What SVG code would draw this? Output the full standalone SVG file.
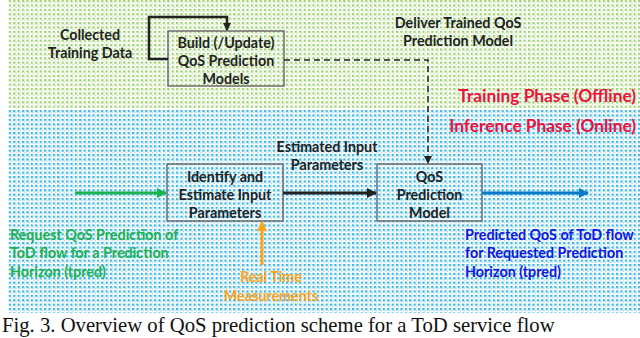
<svg xmlns="http://www.w3.org/2000/svg" width="640" height="338" viewBox="0 0 640 338">
<defs>
<pattern id="pg" width="4.4" height="4.4" patternUnits="userSpaceOnUse">
<rect x="0" y="0" width="2.2" height="2.2" fill="#9ad26a"/>
<rect x="2.2" y="2.2" width="1.4" height="1.4" fill="#c9e8b0"/>
</pattern>
<pattern id="pb" width="4.4" height="4.4" patternUnits="userSpaceOnUse">
<rect x="0" y="0" width="2.2" height="2.2" fill="#2fb4ec"/>
<rect x="2.2" y="2.2" width="1.4" height="1.4" fill="#a8dcf5"/>
</pattern>
<marker id="ak" markerWidth="8" markerHeight="8" refX="7" refY="4" orient="auto" markerUnits="userSpaceOnUse"><path d="M0,0 L8,4 L0,8 Z" fill="#222"/></marker>
<marker id="akl" markerWidth="10" markerHeight="10" refX="9" refY="5" orient="auto" markerUnits="userSpaceOnUse"><path d="M0,0 L10,5 L0,10 Z" fill="#222"/></marker>
<marker id="ag" markerWidth="10" markerHeight="10" refX="9" refY="5" orient="auto" markerUnits="userSpaceOnUse"><path d="M0,0 L10,5 L0,10 Z" fill="#1db150"/></marker>
<marker id="ab" markerWidth="10" markerHeight="10" refX="9" refY="5" orient="auto" markerUnits="userSpaceOnUse"><path d="M0,0 L10,5 L0,10 Z" fill="#0a78c8"/></marker>
<marker id="ao" markerWidth="10" markerHeight="10" refX="9" refY="5" orient="auto" markerUnits="userSpaceOnUse"><path d="M0,0 L10,5 L0,10 Z" fill="#ffa31a"/></marker>
<style>
.t{font-family:Lato,"Liberation Sans",sans-serif;font-weight:bold;font-size:14.3px;fill:#222;}
.c{text-anchor:middle;}
.box{fill:none;stroke:#6e6e6e;stroke-width:1.5;}
.ph{font-family:Lato,"Liberation Sans",sans-serif;font-weight:bold;font-size:17.3px;fill:#ee0f3c;text-anchor:end;}
.gr{fill:#1db150;}
.bl{fill:#1515e0;}
.or{fill:#ffa31a;}
</style>
</defs>
<rect width="640" height="338" fill="#fff"/>
<rect x="8" y="0" width="632" height="108" fill="url(#pg)"/>
<rect x="8" y="110" width="632" height="203" fill="url(#pb)"/>

<text class="ph" x="636" y="102">Training Phase (Offline)</text>
<text class="ph" x="636" y="132">Inference Phase (Online)</text>

<g id="build">
<rect class="box" x="168" y="31" width="116" height="55"/>
<text class="t c" x="226" y="48">Build (/Update)</text>
<text class="t c" x="226" y="66">QoS Prediction</text>
<text class="t c" x="226" y="84">Models</text>
</g>
<g id="identify">
<rect class="box" x="167" y="164" width="116" height="57"/>
<text class="t c" x="225" y="182">Identify  and</text>
<text class="t c" x="225" y="200">Estimate Input</text>
<text class="t c" x="225" y="218">Parameters</text>
</g>
<g id="qos">
<rect class="box" x="377" y="164" width="105" height="57"/>
<text class="t c" x="429.5" y="182">QoS</text>
<text class="t c" x="429.5" y="200">Prediction</text>
<text class="t c" x="429.5" y="218">Model</text>
</g>

<g id="connectors" fill="none">
<path d="M168,59 H149 V17 H227 V30" stroke="#222" stroke-width="2.5" marker-end="url(#ak)"/>
<path d="M284,60 H428 V163" stroke="#222" stroke-width="1.5" stroke-dasharray="6,4" marker-end="url(#ak)"/>
<path d="M75,193 H166" stroke="#1db150" stroke-width="3" marker-end="url(#ag)"/>
<path d="M283,193 H376" stroke="#222" stroke-width="3" marker-end="url(#akl)"/>
<path d="M482,193 H588" stroke="#0a78c8" stroke-width="3" marker-end="url(#ab)"/>
<path d="M262,265 V222" stroke="#ffa31a" stroke-width="3" marker-end="url(#ao)"/>
</g>

<text class="t c" x="90" y="40">Collected</text>
<text class="t c" x="90" y="58">Training Data</text>
<text class="t c" x="458" y="28">Deliver Trained QoS</text>
<text class="t c" x="458" y="46">Prediction Model</text>
<text class="t c" x="327" y="152">Estimated Input</text>
<text class="t c" x="327" y="170">Parameters</text>

<text class="t gr" x="10" y="240">Request QoS Prediction of</text>
<text class="t gr" x="10" y="258">ToD flow for a Prediction</text>
<text class="t gr" x="10" y="277">Horizon (tpred)</text>

<text class="t or c" x="271" y="282">Real Time</text>
<text class="t or c" x="271" y="301">Measurements</text>

<text class="t bl" x="465" y="240">Predicted QoS of ToD flow</text>
<text class="t bl" x="465" y="258">for Requested Prediction</text>
<text class="t bl" x="465" y="277">Horizon (tpred)</text>

<text x="2" y="332" font-family="'Liberation Serif',serif" font-size="20.7" fill="#111">Fig. 3. Overview of QoS prediction scheme for a ToD service flow</text>
</svg>
